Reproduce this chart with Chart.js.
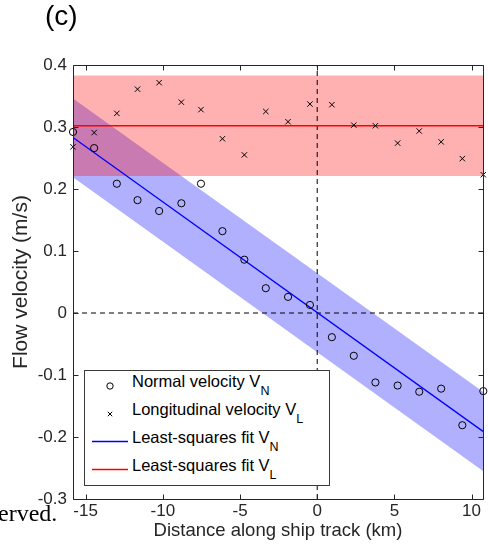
<!DOCTYPE html>
<html><head><meta charset="utf-8">
<script src="https://cdn.jsdelivr.net/npm/chart.js@4/dist/chart.umd.min.js"></script>
<style>
html,body{margin:0;padding:0;background:#fff;}
#wrap{position:relative;width:488px;height:544px;overflow:hidden;}
canvas{position:absolute;left:0;top:0;}
.lbl{position:absolute;white-space:nowrap;color:#000;}
svg{position:absolute;left:0;top:0;}
</style></head><body>
<div id="wrap">
<canvas id="c" width="488" height="544"></canvas>
<div class="lbl" style="left:45px;top:0px;font:28px 'Liberation Sans',Arial,sans-serif;">(c)</div>
<div class="lbl" style="left:-2px;top:500px;font:24px 'Liberation Serif','Times New Roman',serif;">erved.</div>
<svg width="488" height="544" font-family="Liberation Sans, Arial, sans-serif">
  <rect x="84.5" y="370.5" width="245" height="115" fill="#fff" stroke="#3a3a3a" stroke-width="1"/>
  <circle cx="110" cy="386" r="3.2" fill="none" stroke="#000" stroke-width="1"/>
  <path d="M107.8 411.8 L112.2 416.2 M112.2 411.8 L107.8 416.2" stroke="#000" stroke-width="1"/>
  <path d="M92 441.5 L128 441.5" style="stroke:#0000ff;stroke-width:1.4;fill:none"/>
  <path d="M92 469.5 L128 469.5" style="stroke:#ff0000;stroke-width:1.4;fill:none"/>
  <text x="132" y="387" font-size="16.5" fill="#000">Normal velocity V<tspan dy="8" font-size="12.5">N</tspan></text>
  <text x="132" y="415" font-size="16.5" fill="#000">Longitudinal velocity V<tspan dy="8" font-size="12.5">L</tspan></text>
  <text x="132" y="443" font-size="16.5" fill="#000">Least-squares fit V<tspan dy="8" font-size="12.5">N</tspan></text>
  <text x="132" y="471" font-size="16.5" fill="#000">Least-squares fit V<tspan dy="8" font-size="12.5">L</tspan></text>
</svg>
</div>
<script>
// ---- data ----
const distanceKm = [-15.82, -14.45, -12.98, -11.64, -10.24, -8.80, -7.53, -6.14, -4.72, -3.33, -1.89, -0.47, 0.95, 2.37, 3.77, 5.21, 6.61, 8.03, 9.40, 10.76];
const normalVelocity = [0.292, 0.266, 0.2085, 0.182, 0.1645, 0.177, 0.2085, 0.132, 0.086, 0.040, 0.026, 0.013, -0.039, -0.069, -0.112, -0.117, -0.127, -0.122, -0.181, -0.126];
const longitudinalVelocity = [0.268, 0.291, 0.322, 0.361, 0.3715, 0.340, 0.328, 0.281, 0.255, 0.325, 0.3085, 0.337, 0.336, 0.303, 0.302, 0.274, 0.2935, 0.276, 0.249, 0.223];
const fitX = [-15.82, 10.74];
const fitN = [0.283, -0.191];
const fitNUpper = [0.346, -0.127];
const fitNLower = [0.219, -0.255];
const fitL = [0.302, 0.302];
const fitLUpper = [0.383, 0.383];
const fitLLower = [0.221, 0.221];
const zeroLineX = [-15.82, 10.74];
const zeroLineY = [-0.3, 0.4];
const xTickValues = [-15, -10, -5, 0, 5, 10];
const xTickLabels = ['-15', '-10', '-5', '0', '5', '10'];
const yTickValues = [-0.3, -0.2, -0.1, 0, 0.1, 0.2, 0.3, 0.4];
const yTickLabels = ['-0.3', '-0.2', '-0.1', '0', '0.1', '0.2', '0.3', '0.4'];

const pts = (xs, ys) => xs.map((x, i) => ({x: x, y: ys[i]}));
const FONT = "'Liberation Sans', Arial, Helvetica, sans-serif";
const AX = '#262626';

const boxPlugin = {
  id: 'box',
  afterDatasetsDraw(chart) {
    const {ctx, chartArea: a, scales: {x, y}} = chart;
    ctx.save();
    ctx.strokeStyle = AX; ctx.lineWidth = 1;
    const l = Math.round(a.left) + 0.5, r = Math.round(a.right) + 0.5,
          t = Math.round(a.top) + 0.5, b = Math.round(a.bottom) + 0.5;
    ctx.beginPath();
    ctx.moveTo(l, t); ctx.lineTo(r, t); ctx.lineTo(r, b); ctx.lineTo(l, b); ctx.closePath();
    const L = 5;
    x.ticks.forEach(tk => {
      const px = Math.round(x.getPixelForValue(tk.value)) + 0.5;
      ctx.moveTo(px, b); ctx.lineTo(px, b - L);
      ctx.moveTo(px, t); ctx.lineTo(px, t + L);
    });
    y.ticks.forEach(tk => {
      const py = Math.round(y.getPixelForValue(tk.value)) + 0.5;
      ctx.moveTo(l, py); ctx.lineTo(l + L, py);
      ctx.moveTo(r, py); ctx.lineTo(r - L, py);
    });
    ctx.stroke();
    ctx.restore();
  }
};

new Chart(document.getElementById('c'), {
  type: 'line',
  data: {
    datasets: [
      {label: 'Longitudinal velocity', data: pts(distanceKm, longitudinalVelocity), showLine: false,
       pointStyle: 'crossRot', pointRadius: 3.8, borderColor: '#000', borderWidth: 1, order: 0, clip: false},
      {label: 'Normal velocity', data: pts(distanceKm, normalVelocity), showLine: false,
       pointStyle: 'circle', pointRadius: 3.6, borderColor: '#000', backgroundColor: 'rgba(0,0,0,0)', borderWidth: 1, order: 0, clip: false},
      {label: 'fit L', data: pts(fitX, fitL), borderColor: '#ff0000', borderWidth: 1.3, pointRadius: 0, fill: false, order: 1},
      {label: 'fit N', data: pts(fitX, fitN), borderColor: '#0000ff', borderWidth: 1.3, pointRadius: 0, fill: false, order: 1},
      {label: 'zero y', data: pts(zeroLineX, [0, 0]), borderColor: '#000', borderWidth: 1, borderDash: [5, 4], pointRadius: 0, fill: false, order: 2},
      {label: 'zero x', data: pts([0, 0], zeroLineY), borderColor: '#000', borderWidth: 1, borderDash: [5, 4], pointRadius: 0, fill: false, order: 2},
      {label: 'band L upper', data: pts(fitX, fitLUpper), borderWidth: 0, borderColor: 'rgba(0,0,0,0)', pointRadius: 0, fill: '+1', backgroundColor: 'rgba(255,0,0,0.31)', order: 3},
      {label: 'band L lower', data: pts(fitX, fitLLower), borderWidth: 0, borderColor: 'rgba(0,0,0,0)', pointRadius: 0, fill: false, order: 3},
      {label: 'band N upper', data: pts(fitX, fitNUpper), borderWidth: 0, borderColor: 'rgba(0,0,0,0)', pointRadius: 0, fill: '+1', backgroundColor: 'rgba(0,0,255,0.31)', order: 4},
      {label: 'band N lower', data: pts(fitX, fitNLower), borderWidth: 0, borderColor: 'rgba(0,0,0,0)', pointRadius: 0, fill: false, order: 4}
    ]
  },
  options: {
    responsive: false,
    animation: false,
    events: [],
    devicePixelRatio: 1,
    layout: {padding: {top: 65, right: 4, left: 0, bottom: 0}},
    plugins: {legend: {display: false}, tooltip: {enabled: false}},
    scales: {
      x: {
        type: 'linear', min: -15.82, max: 10.74,
        afterBuildTicks: s => { s.ticks = xTickValues.map(v => ({value: v})); },
        afterFit: s => { s.height = 45; },
        grid: {display: false, drawTicks: false},
        border: {display: false},
        ticks: {callback: (v, i) => xTickLabels[i], font: {family: FONT, size: 17}, color: AX, padding: 2, maxRotation: 0, autoSkip: false},
        title: {display: true, text: 'Distance along ship track (km)', font: {family: FONT, size: 18.5}, color: AX, padding: {top: 0, bottom: 2}}
      },
      y: {
        type: 'linear', min: -0.3, max: 0.4,
        afterBuildTicks: s => { s.ticks = yTickValues.map(v => ({value: v})); },
        afterFit: s => { s.width = 73; },
        grid: {display: false, drawTicks: false},
        border: {display: false},
        ticks: {callback: (v, i) => yTickLabels[i], font: {family: FONT, size: 17}, color: AX, padding: 6, autoSkip: false},
        title: {display: true, text: 'Flow velocity (m/s)', font: {family: FONT, size: 21}, color: AX, padding: {top: 9, bottom: 0}}
      }
    }
  },
  plugins: [boxPlugin]
});
</script>
</body></html>
